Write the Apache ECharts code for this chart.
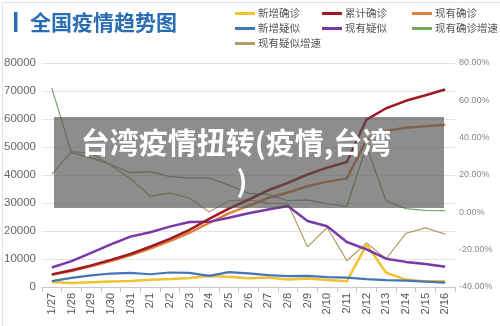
<!DOCTYPE html>
<html>
<head>
<meta charset="utf-8">
<script src="https://cdn.jsdelivr.net/npm/echarts@6/dist/echarts.min.js"></script>
<style>
html,body{margin:0;padding:0;background:#fff;}
#c{width:500px;height:326px;}
</style>
</head>
<body>
<div id="c"></div>
<script>
const categories = ['1/27','1/28','1/29','1/30','1/31','2/1','2/2','2/3','2/4','2/5','2/6','2/7','2/8','2/9','2/10','2/11','2/12','2/13','2/14','2/15','2/16'];
const newConfirmed = [1771,1459,1737,1982,2102,2590,2829,3235,3887,3694,3143,3399,2656,3062,2478,2015,15152,5090,2641,2009,2048];
const totalConfirmed = [4515,5974,7711,9692,11791,14380,17205,20438,24324,28018,31161,34546,37198,40171,42638,44653,59804,63851,66492,68500,70548];
const currentConfirmed = [4349,5739,7417,9308,11289,13748,16369,19381,22942,26302,28985,31774,33738,35982,37626,38800,52526,55748,56873,57416,57934];
const newSuspected = [2077,3248,4148,4812,5019,4562,5173,5072,3971,5328,4833,4214,3916,4008,3536,3342,2807,2450,2277,1918,1563];
const currentSuspected = [6973,9239,12167,15238,17988,19544,21558,23214,23260,24702,26359,27657,28942,23589,21675,16067,13435,10109,8969,8228,7264];
const currentConfirmedGrowth = [66.4,32.0,29.2,25.5,21.3,21.8,19.1,18.4,18.4,14.6,10.2,9.6,6.2,6.7,4.6,3.1,35.4,6.1,2.0,1.0,0.9];
const currentSuspectedGrowth = [20.3,32.5,31.7,25.2,18.0,8.7,10.3,7.7,0.2,6.2,6.7,4.9,4.6,-18.5,-8.1,-25.9,-16.4,-24.8,-11.3,-8.3,-11.7];
const leftTicks = {min:0, max:80000, interval:10000};
const rightTicks = {min:-40, max:80, interval:20};
const titleText = '全国疫情趋势图';
const overlayLines = ['台湾疫情扭转(疫情,台湾', ')'];

const CJK = '"Noto Sans CJK SC", "Noto Sans", sans-serif';
const chart = echarts.init(document.getElementById('c'), null, {renderer:'canvas'});

const colors = {
  '新增确诊':'#f2c230',
  '累计确诊':'#9e1a22',
  '现有确诊':'#e0803f',
  '新增疑似':'#4475b8',
  '现有疑似':'#7a38a8',
  '现有确诊增速':'#74a664',
  '现有疑似增速':'#b39d6c'
};
function lineSeries(name, data, yIndex, width, z){
  return {name, type:'line', data, yAxisIndex:yIndex, symbol:'none', smooth:false,
    lineStyle:{color:colors[name], width}, itemStyle:{color:colors[name]}, z:z};
}
const legendBase = {
  orient:'vertical', icon:'rect', itemWidth:20, itemHeight:3, itemGap:4,
  textStyle:{fontSize:10.5, color:'#555', fontFamily:CJK, lineHeight:11, padding:[0,0,0,-2]},
  selectedMode:false, padding:0
};

chart.setOption({
  animation:false,
  backgroundColor:'#fff',
  textStyle:{fontFamily:CJK},
  grid:{left:42, right:45, top:63, bottom:39, containLabel:false},
  legend:[
    Object.assign({}, legendBase, {left:235, top:8, data:['新增确诊','新增疑似','现有疑似增速']}),
    Object.assign({}, legendBase, {left:322, top:8, data:['累计确诊','现有疑似']}),
    Object.assign({}, legendBase, {left:412, top:8, data:['现有确诊','现有确诊增速']})
  ],
  xAxis:{type:'category', data:categories, boundaryGap:true,
    axisLine:{lineStyle:{color:'#c8c8c8'}},
    axisTick:{show:true, length:5, lineStyle:{color:'#c8c8c8'}},
    axisLabel:{rotate:90, fontSize:11, color:'#555', margin:6, fontFamily:'"Liberation Sans", Arial, sans-serif'}},
  yAxis:[
    {type:'value', min:leftTicks.min, max:leftTicks.max, interval:leftTicks.interval,
      axisLine:{show:false}, axisTick:{show:false},
      axisLabel:{fontSize:11.5, color:'#666', margin:6, fontFamily:'"Liberation Sans", Arial, sans-serif',
        formatter:v=>String(v)},
      splitLine:{lineStyle:{color:'#e4e4e4'}}},
    {type:'value', min:rightTicks.min, max:rightTicks.max, interval:rightTicks.interval,
      axisLine:{show:false}, axisTick:{show:false}, splitLine:{show:false},
      axisLabel:{fontSize:9, color:'#888', margin:4, fontFamily:'"Liberation Sans", Arial, sans-serif',
        formatter:v=>v.toFixed(2)+'%'}}
  ],
  series:[
    lineSeries('新增确诊', newConfirmed, 0, 2.5, 3),
    lineSeries('累计确诊', totalConfirmed, 0, 2.5, 4),
    lineSeries('现有确诊', currentConfirmed, 0, 2.5, 3),
    lineSeries('新增疑似', newSuspected, 0, 2.2, 3),
    lineSeries('现有疑似', currentSuspected, 0, 2.5, 3),
    lineSeries('现有确诊增速', currentConfirmedGrowth, 1, 1.2, 2),
    lineSeries('现有疑似增速', currentSuspectedGrowth, 1, 1.2, 2)
  ],
  graphic:[
    {type:'rect', left:0, top:0, shape:{x:0.5,y:0.5,width:499,height:325}, style:{fill:'none', stroke:'#e2e2e2', lineWidth:1}, z:1},
    {type:'rect', shape:{x:14, y:12, width:3.5, height:20}, style:{fill:'#2a6db3'}, z:10},
    {type:'text', x:30, y:22, style:{text:titleText, font:'bold 21px '+CJK, fill:'#2a6db3', textVerticalAlign:'middle'}, z:10},
    {type:'rect', shape:{x:54, y:117, width:390, height:91}, style:{fill:'rgba(80,80,80,0.65)'}, z:100},
    {type:'text', x:236, y:143, style:{text:overlayLines[0], font:'bold 29px '+CJK, fill:'#fff', textAlign:'center', textVerticalAlign:'middle'}, z:101},
    {type:'text', x:242, y:181, style:{text:overlayLines[1], font:'bold 29px '+CJK, fill:'#fff', textAlign:'center', textVerticalAlign:'middle'}, z:101}
  ]
});
</script>
</body>
</html>
